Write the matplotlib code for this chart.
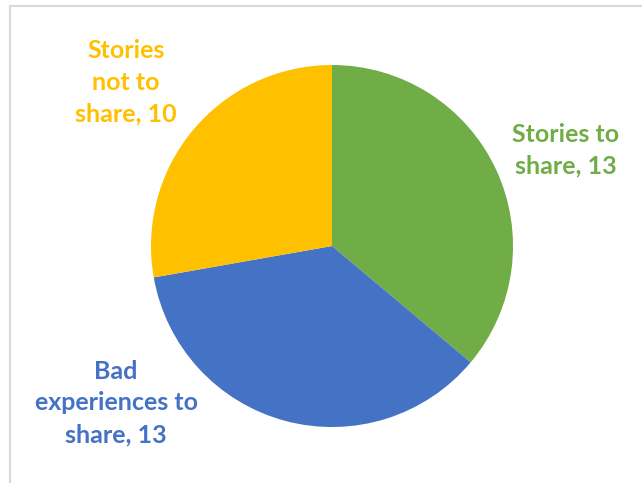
import matplotlib.pyplot as plt
from matplotlib.lines import Line2D

labels = ['Stories to\nshare', 'Bad\nexperiences to\nshare', 'Stories\nnot to\nshare']
values = [13, 13, 10]
colors = ['#70AD47', '#4472C4', '#FFC000']
# label centres, in units of the pie radius
label_pos = [(1.29, 0.528), (-1.193, -0.867), (-1.138, 0.906)]

plt.rcParams['font.family'] = ['Lato', 'DejaVu Sans']

fig = plt.figure(figsize=(6.42, 4.83), dpi=100)
ax = fig.add_axes([0.2352, 0.1159, 0.5639, 0.7495])

ax.pie(values, colors=colors, startangle=90, counterclock=False,
       radius=1.0, wedgeprops=dict(linewidth=0))
ax.set_xlim(-1, 1)
ax.set_ylim(-1, 1)
ax.set_aspect('equal')
ax.axis('off')

for lab, v, c, (x, y) in zip(labels, values, colors, label_pos):
    ax.text(x, y, '%s, %d' % (lab, v), color=c, fontsize=18, fontweight='bold',
            ha='center', va='center', linespacing=1.45, clip_on=False)

# chart area border (top and left edges)
W, H = 642.0, 483.0
fig.add_artist(Line2D([9.5 / W, 9.5 / W], [0, 1 - 5.5 / H], color='#D9D9D9', lw=1.5))
fig.add_artist(Line2D([9.5 / W, 1], [1 - 5.5 / H, 1 - 5.5 / H], color='#D9D9D9', lw=1.5))

fig.savefig('out.png', dpi=100)
